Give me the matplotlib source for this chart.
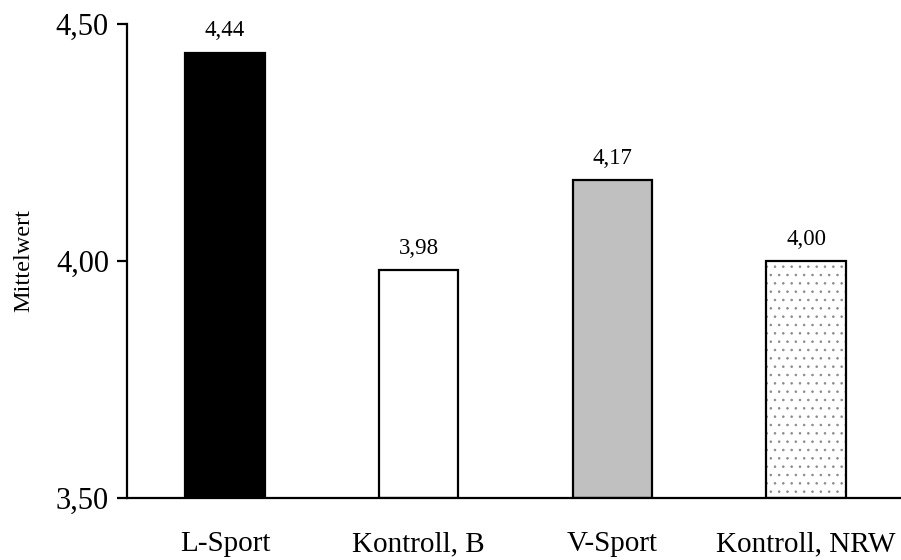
import matplotlib.pyplot as plt
from matplotlib.ticker import FuncFormatter

plt.rcParams["font.family"] = ["Liberation Serif", "DejaVu Serif"]
plt.rcParams["hatch.linewidth"] = 0.6

groups = ["L-Sport", "Kontroll, B", "V-Sport", "Kontroll, NRW"]
means = [4.44, 3.98, 4.17, 4.00]
fills = ["black", "white", "#c0c0c0", "white"]
hatches = [None, None, None, ".."]

fig = plt.figure(figsize=(9.01, 5.6), dpi=100)
ax = fig.add_axes([0.141, 0.111, 0.859, 0.846])

x = list(range(len(groups)))
width = 0.41

# hatched fill first (hatch takes edge colour), black outline on top
for xi, m, fc, h in zip(x, means, fills, hatches):
    if h:
        ax.bar(xi, m - 3.5, width, bottom=3.5, color=fc, edgecolor="#8a8a8a",
               hatch=h, linewidth=0)
bars = ax.bar(x, [m - 3.5 for m in means], width, bottom=3.5,
              color=[fc if h is None else "none" for fc, h in zip(fills, hatches)],
              edgecolor="black", linewidth=1.6)

for b, m in zip(bars, means):
    ax.annotate(f"{m:.2f}".replace(".", ","),
                (b.get_x() + b.get_width() / 2, m),
                xytext=(0, 8), textcoords="offset points",
                ha="center", va="bottom", fontsize=16.5)

ax.set_ylim(3.5, 4.5)
ax.set_xlim(-0.505, 3.49)
ax.set_yticks([3.5, 4.0, 4.5])
ax.yaxis.set_major_formatter(FuncFormatter(lambda v, p: f"{v:.2f}".replace(".", ",")))
ax.set_xticks(x)
ax.set_xticklabels(groups)
ax.tick_params(axis="y", direction="out", length=7, width=1.6, pad=6, labelsize=22)
ax.tick_params(axis="x", length=0, pad=24, labelsize=21)
ax.set_ylabel("Mittelwert", fontsize=17.5, labelpad=15.5)

for s in ["top", "right"]:
    ax.spines[s].set_visible(False)
ax.spines["left"].set_linewidth(1.6)
ax.spines["bottom"].set_linewidth(1.6)

fig.savefig("out.png", dpi=100)
